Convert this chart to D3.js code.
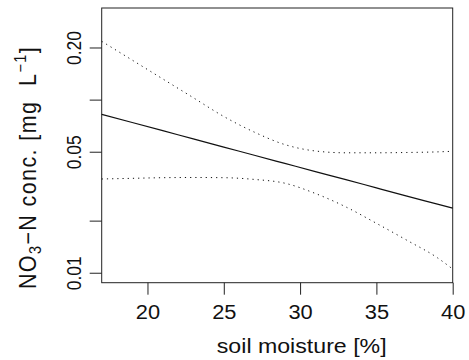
<!DOCTYPE html>
<html>
<head>
<meta charset="utf-8">
<script src="https://cdn.jsdelivr.net/npm/d3@7"></script>
<style>
  body { margin: 0; background: #fff; }
  svg { display: block; font-family: "Liberation Sans", Arial, Helvetica, sans-serif; }
  text { fill: #111; white-space: pre; }
</style>
</head>
<body>
<svg id="chart" width="469" height="360"></svg>
<script>
// soil moisture grid (%)
var moisture = [17, 19, 21, 23, 25, 27, 29, 31, 33, 35, 37, 39, 40];
// fitted NO3-N concentration (mg/L) and confidence band
var fitted = [0.0822, 0.0738, 0.0662, 0.0593, 0.0532, 0.0477, 0.0428, 0.0384, 0.0345, 0.0309, 0.0277, 0.0249, 0.0236];
var upper  = [0.2172, 0.1691, 0.1317, 0.1026, 0.0799, 0.0649, 0.0550, 0.0505, 0.0493, 0.0493, 0.0495, 0.0499, 0.0503];
var lower  = [0.0348, 0.0351, 0.0354, 0.0355, 0.0354, 0.0346, 0.0329, 0.0287, 0.0240, 0.0193, 0.0154, 0.0122, 0.0105];

var xTicks = [20, 25, 30, 35, 40];
var yTicks = [0.01, 0.02, 0.05, 0.1, 0.2];
var yTickLabels = ["0.01", "", "0.05", "", "0.20"];

var svg = d3.select("#chart");
var plotL = 101.7, plotR = 452.7, plotT = 8, plotB = 282.7;

var x = d3.scaleLinear().domain([17, 40]).range([plotL, plotR]);
var y = d3.scaleLog().domain([0.00876, 0.3382]).range([plotB, plotT]);

// box
svg.append("rect")
  .attr("x", plotL).attr("y", plotT)
  .attr("width", plotR - plotL).attr("height", plotB - plotT)
  .attr("fill", "none").attr("stroke", "#222").attr("stroke-width", 1);

// x axis
var gx = svg.append("g")
  .attr("transform", "translate(0," + plotB + ")")
  .call(d3.axisBottom(x).tickValues(xTicks).tickSize(12).tickSizeOuter(0).tickFormat(d3.format("d")));
gx.select(".domain").remove();
gx.selectAll(".tick line").attr("stroke", "#222");
gx.selectAll(".tick text")
  .attr("y", 0).attr("dy", null)
  .attr("font-size", 19.5)
  .attr("fill", "#111")
  .attr("transform", "translate(0,36.7) scale(1.12,1)");

// y axis
var gy = svg.append("g")
  .attr("transform", "translate(" + plotL + ",0)")
  .call(d3.axisLeft(y).tickValues(yTicks).tickSize(12).tickSizeOuter(0)
    .tickFormat(function(d, i) { return yTickLabels[i]; }));
gy.select(".domain").remove();
gy.selectAll(".tick line").attr("stroke", "#222");
gy.selectAll(".tick text")
  .attr("x", 0).attr("dy", null)
  .attr("text-anchor", "middle")
  .attr("font-size", 17.5)
  .attr("fill", "#111")
  .attr("transform", "translate(-21,0) scale(1.12,1) rotate(-90)");

// lines
var line = d3.line().curve(d3.curveMonotoneX)
  .x(function(d) { return x(d[0]); })
  .y(function(d) { return y(d[1]); });

var plot = svg.append("g");
plot.append("path")
  .datum(d3.zip(moisture, fitted))
  .attr("d", line)
  .attr("fill", "none").attr("stroke", "#111").attr("stroke-width", 1.2);

[upper, lower].forEach(function(s) {
  plot.append("path")
    .datum(d3.zip(moisture, s))
    .attr("d", line)
    .attr("fill", "none").attr("stroke", "#111").attr("stroke-width", 1)
    .attr("stroke-dasharray", "1.2,4");
});

// axis titles
svg.append("text")
  .attr("text-anchor", "middle")
  .attr("font-size", 20.5)
  .attr("transform", "translate(301.7,353) scale(1.13,1)")
  .text("soil moisture [%]");

var yt = svg.append("text")
  .attr("text-anchor", "middle")
  .attr("font-size", 21.5)
  .attr("letter-spacing", 1.4)
  .attr("transform", "translate(36,167.5) scale(1.08,1) rotate(-90)");
yt.append("tspan").text("NO");
yt.append("tspan").attr("font-size", 14.5).attr("dy", 5).text("3");
yt.append("tspan").attr("dy", -5).text("\u2212N conc. [mg  L");
yt.append("tspan").attr("font-size", 14.5).attr("dy", -9.5).text("\u22121");
yt.append("tspan").attr("dy", 9.5).text("]");
</script>
</body>
</html>
